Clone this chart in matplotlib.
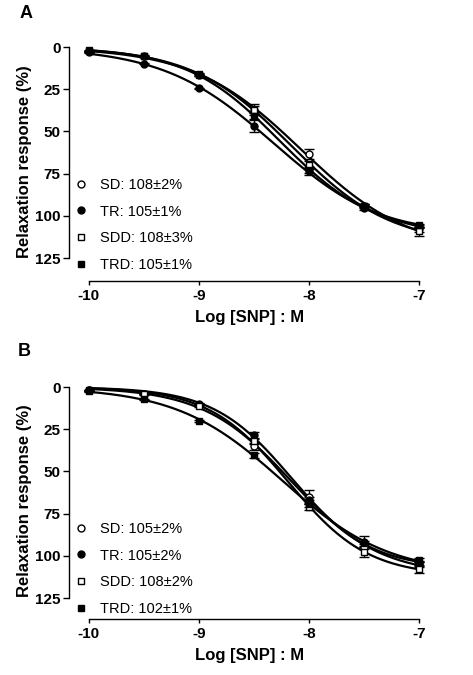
import numpy as np
import matplotlib
matplotlib.use("Agg")
import matplotlib.pyplot as plt
from matplotlib.lines import Line2D

plt.rcParams['font.family'] = ['Liberation Sans', 'DejaVu Sans']

log_snp = [-10, -9.5, -9, -8.5, -8, -7.5, -7]
groups = ["SD", "TR", "SDD", "TRD"]
markers = {"SD": ("o", "white"), "TR": ("o", "black"), "SDD": ("s", "white"), "TRD": ("s", "black")}

# Panel A
a_vals = {
    "SD":  [2.5, 5.0, 16.5, 37.0, 63.3, 94.0, 108.0],
    "TR":  [3.0, 9.9, 24.5, 46.7, 73.7, 95.4, 106.3],
    "SDD": [1.8, 5.3, 16.0, 37.0, 69.8, 93.9, 109.2],
    "TRD": [2.5, 5.5, 16.5, 40.6, 72.8, 94.0, 105.7],
}
a_err = {
    "SD":  [0.3, 0.3, 0.5, 2.0, 3.0, 1.0, 1.5],
    "TR":  [0.3, 0.3, 0.5, 3.5, 2.0, 1.0, 1.0],
    "SDD": [0.3, 0.3, 0.5, 3.0, 2.5, 1.2, 2.5],
    "TRD": [0.3, 0.3, 0.5, 2.0, 2.0, 1.0, 1.0],
}
a_labels = ["SD: 108\u00b12%", "TR: 105\u00b11%", "SDD: 108\u00b13%", "TRD: 105\u00b11%"]

# Panel B
b_vals = {
    "SD":  [2.0, 4.0, 10.5, 35.0, 65.0, 94.5, 105.0],
    "TR":  [2.0, 4.0, 9.8, 28.5, 67.0, 91.5, 104.3],
    "SDD": [2.0, 4.3, 11.4, 31.9, 70.9, 97.5, 108.0],
    "TRD": [2.5, 7.3, 20.0, 40.4, 69.0, 92.5, 102.4],
}
b_err = {
    "SD":  [0.3, 0.3, 0.5, 2.0, 4.0, 1.5, 1.5],
    "TR":  [0.3, 0.3, 0.5, 2.0, 2.0, 3.0, 1.0],
    "SDD": [0.3, 0.3, 0.5, 2.0, 2.0, 3.0, 2.0],
    "TRD": [0.3, 0.3, 0.5, 1.5, 2.0, 1.5, 1.0],
}
b_labels = ["SD: 105\u00b12%", "TR: 105\u00b12%", "SDD: 108\u00b12%", "TRD: 102\u00b11%"]

yticks = [0, 25, 50, 75, 100, 125]
xticks = [-10, -9, -8, -7]

fig = plt.figure(figsize=(4.73, 6.75), dpi=100)


def hill(x, top, ec50, h):
    return top / (1 + 10 ** ((ec50 - x) * h))


def fit_hill(x, y):
    """Least-squares sigmoid fit by grid search over the read data points."""
    x = np.asarray(x, float)[None, None, None, :]
    y = np.asarray(y, float)
    T = np.linspace(100, 125, 51)[:, None, None, None]
    E = np.linspace(-8.7, -7.8, 91)[None, :, None, None]
    H = np.linspace(0.6, 1.6, 51)[None, None, :, None]
    pred = hill(x, T, E, H)
    sse = ((pred - y) ** 2).sum(axis=-1)
    i, j, k = np.unravel_index(np.argmin(sse), sse.shape)
    return T[i, 0, 0, 0], E[0, j, 0, 0], H[0, 0, k, 0]


def panel(rect, vals, errs, labels, letter, letter_pos, leg_top, ybot):
    ax = fig.add_axes(rect)
    xs = np.linspace(-10, -7, 300)
    for g in groups:
        top, ec, h = fit_hill(log_snp, vals[g])
        ax.plot(xs, hill(xs, top, ec, h), color="black", lw=1.6, zorder=2)
    for g in groups:
        m, fc = markers[g]
        ax.errorbar(log_snp, vals[g], yerr=errs[g], fmt=m, ms=5, mfc=fc,
                    mec="black", mew=1.0, ecolor="black", elinewidth=1.0,
                    capsize=3.5, capthick=1.0, zorder=3, clip_on=False)
    ax.set_xlim(-10.18, -6.9)
    ax.set_ylim(ybot, -3)
    ax.spines['top'].set_visible(False)
    ax.spines['right'].set_visible(False)
    ax.spines['left'].set_bounds(0, 125)
    ax.spines['bottom'].set_bounds(-10, -7)
    for s in ['left', 'bottom']:
        ax.spines[s].set_linewidth(1.0)
    ax.set_yticks(yticks)
    ax.set_xticks(xticks)
    ax.set_xticklabels([str(t) for t in xticks])
    ax.tick_params(axis='y', direction='out', length=4, width=1.0, labelsize=11, pad=2)
    ax.tick_params(axis='x', direction='out', length=3, width=1.0, labelsize=11, pad=3)
    for lab in ax.get_xticklabels() + ax.get_yticklabels():
        lab.set_fontweight('bold')
    ax.set_xlabel("Log [SNP] : M", fontsize=12, fontweight='bold', labelpad=5)
    ax.set_ylabel("Relaxation response (%)", fontsize=12, fontweight='bold', labelpad=2)
    handles = []
    for g in groups:
        m, fc = markers[g]
        handles.append(Line2D([], [], ls='none', marker=m, ms=5, mfc=fc, mec='black', mew=1.0))
    ax.legend(handles, labels, loc='upper left', bbox_to_anchor=(74 / 473, leg_top),
              bbox_transform=fig.transFigure, frameon=False, borderpad=0,
              borderaxespad=0, handlelength=1.0, handletextpad=0.75,
              labelspacing=0.86, fontsize=10.5)
    fig.text(letter_pos[0], letter_pos[1], letter, fontsize=13, fontweight='bold',
             ha='left', va='center')
    return ax


panel([69 / 473, 1 - 281 / 675, 361 / 473, (281 - 42) / 675], a_vals, a_err,
      a_labels, "A", (20 / 473, 1 - 14 / 675), 1 - 178 / 675, 138.6)
panel([69 / 473, 1 - 619 / 675, 361 / 473, (619 - 382) / 675], b_vals, b_err,
      b_labels, "B", (18 / 473, 1 - 352 / 675), 1 - 522 / 675, 137.4)

fig.savefig("out.png", dpi=100, facecolor="white")
